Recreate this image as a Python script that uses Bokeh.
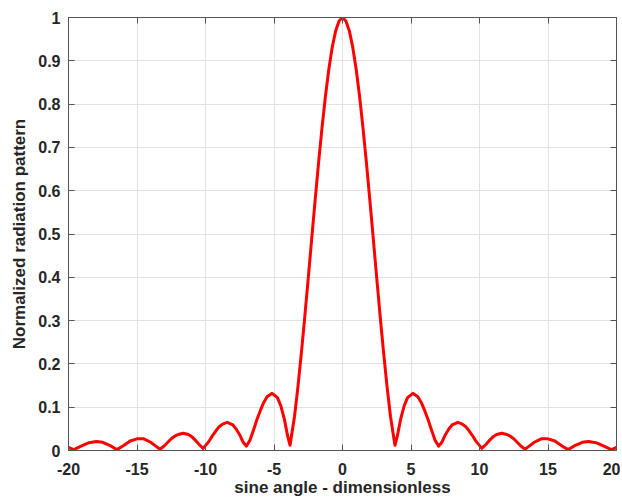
from bokeh.plotting import figure
from bokeh.models import FixedTicker, LinearAxis, CustomJSTickFormatter, Range1d, CustomLabelingPolicy
from bokeh.embed import file_html
from bokeh.resources import INLINE

# values
sine_angle = [-20, -19.62, -19, -18.5, -17.96, -17.5, -17, -16.47, -16, -15.5, -15, -14.5, -14,
              -13.75, -13.32, -13, -12.75, -12.5, -12.25, -12, -11.62, -11.25, -11, -10.75,
              -10.5, -10.17, -9.75, -9.5, -9.25, -9, -8.75, -8.42, -8, -7.75, -7.5, -7.25,
              -7.02, -6.75, -6.5, -6.25, -6, -5.75, -5.5, -5.14, -4.75, -4.5, -4.25, -4,
              -3.83, -3.5, -3.25, -3, -2.75, -2.5, -2.25, -2, -1.75, -1.5, -1.25, -1, -0.75,
              -0.5, -0.25,
              0, 0.25, 0.5, 0.75, 1, 1.25, 1.5, 1.75, 2, 2.25, 2.5, 2.75, 3, 3.25, 3.5, 3.83,
              4, 4.25, 4.5, 4.75, 5.14, 5.5, 5.75, 6, 6.25, 6.5, 6.75, 7.02, 7.25, 7.5, 7.75,
              8, 8.42, 8.75, 9, 9.25, 9.5, 9.75, 10.17, 10.5, 10.75, 11, 11.25, 11.62, 12,
              12.25, 12.5, 12.75, 13, 13.32, 13.75, 14, 14.5, 15, 15.5, 16, 16.47, 17, 17.5,
              17.96, 18.5, 19, 19.62, 20]
pattern = [0.007, 0.002, 0.011, 0.018, 0.021, 0.019, 0.012, 0.002, 0.011, 0.022, 0.027, 0.027, 0.019,
           0.013, 0.003, 0.011, 0.019, 0.027, 0.033, 0.037, 0.040, 0.037, 0.032, 0.024,
           0.015, 0.005, 0.021, 0.034, 0.045, 0.055, 0.061, 0.065, 0.059, 0.049, 0.036, 0.019,
           0.010, 0.024, 0.047, 0.071, 0.092, 0.111, 0.124, 0.132, 0.122, 0.103, 0.073, 0.033,
           0.012, 0.079, 0.148, 0.226, 0.310, 0.398, 0.488, 0.577, 0.663, 0.744, 0.817, 0.880, 0.931,
           0.969, 0.992,
           1.0, 0.992, 0.969, 0.931, 0.880, 0.817, 0.744, 0.663, 0.577, 0.488, 0.398, 0.310, 0.226, 0.148, 0.079, 0.012,
           0.033, 0.073, 0.103, 0.122, 0.132, 0.124, 0.111, 0.092, 0.071, 0.047, 0.024, 0.010, 0.019, 0.036, 0.049,
           0.059, 0.065, 0.061, 0.055, 0.045, 0.034, 0.021, 0.005, 0.015, 0.024, 0.032, 0.037, 0.040, 0.037,
           0.033, 0.027, 0.019, 0.011, 0.003, 0.013, 0.019, 0.027, 0.027, 0.022, 0.011, 0.002, 0.012, 0.019,
           0.021, 0.018, 0.011, 0.002, 0.007]

x_ticks = [-20, -15, -10, -5, 0, 5, 10, 15, 20]
y_ticks = [0, 0.1, 0.2, 0.3, 0.4, 0.5, 0.6, 0.7, 0.8, 0.9, 1]

FONT = "Liberation Sans"
TXT = "#262626"
AX = "#555555"

p = figure(width=620, height=499, output_backend="svg", toolbar_location=None,
           x_range=Range1d(-20, 20), y_range=Range1d(0, 1),
           min_border_left=68, min_border_right=4, min_border_top=17, min_border_bottom=49)
p.outline_line_color = AX
p.background_fill_color = "white"
p.border_fill_color = "white"

fmt = CustomJSTickFormatter(code="return String(tick);")

for ax, ticks in ((p.xaxis[0], x_ticks), (p.yaxis[0], y_ticks)):
    ax.ticker = FixedTicker(ticks=ticks)
    ax.formatter = fmt
    ax.axis_line_color = AX
    ax.major_tick_line_color = AX
    ax.major_tick_in = 6
    ax.major_tick_out = 0
    ax.minor_tick_line_color = None
    ax.major_label_text_font = FONT
    ax.major_label_text_font_style = "bold"
    ax.major_label_text_font_size = "16px"
    ax.major_label_text_color = TXT
    ax.axis_label_text_font = FONT
    ax.axis_label_text_font_style = "bold"
    ax.axis_label_text_font_size = "17px"
    ax.axis_label_text_color = TXT

p.xaxis[0].axis_label = "sine angle - dimensionless"
p.yaxis[0].axis_label = "Normalized radiation pattern"
p.xaxis[0].major_label_standoff = 12
p.xaxis[0].axis_label_standoff = 0
p.yaxis[0].major_label_standoff = 8
p.yaxis[0].axis_label_standoff = 6

no_labels = CustomLabelingPolicy(code="return new Set();")
for loc, ticks in (("above", x_ticks), ("right", y_ticks)):
    a = LinearAxis(ticker=FixedTicker(ticks=ticks), formatter=fmt)
    a.major_label_policy = no_labels
    a.major_label_text_font_size = "0px"
    a.major_label_standoff = 0
    a.axis_line_color = AX
    a.major_tick_line_color = AX
    a.major_tick_in = 6
    a.major_tick_out = 0
    a.minor_tick_line_color = None
    p.add_layout(a, loc)

p.xgrid.ticker = FixedTicker(ticks=x_ticks)
p.ygrid.ticker = FixedTicker(ticks=y_ticks)
p.grid.grid_line_color = "#e2e2e2"
p.grid.grid_line_width = 1

p.line(sine_angle, pattern, line_color="#ff0000", line_width=3, line_join="round")

open("out.html", "w").write(file_html(p, INLINE))
